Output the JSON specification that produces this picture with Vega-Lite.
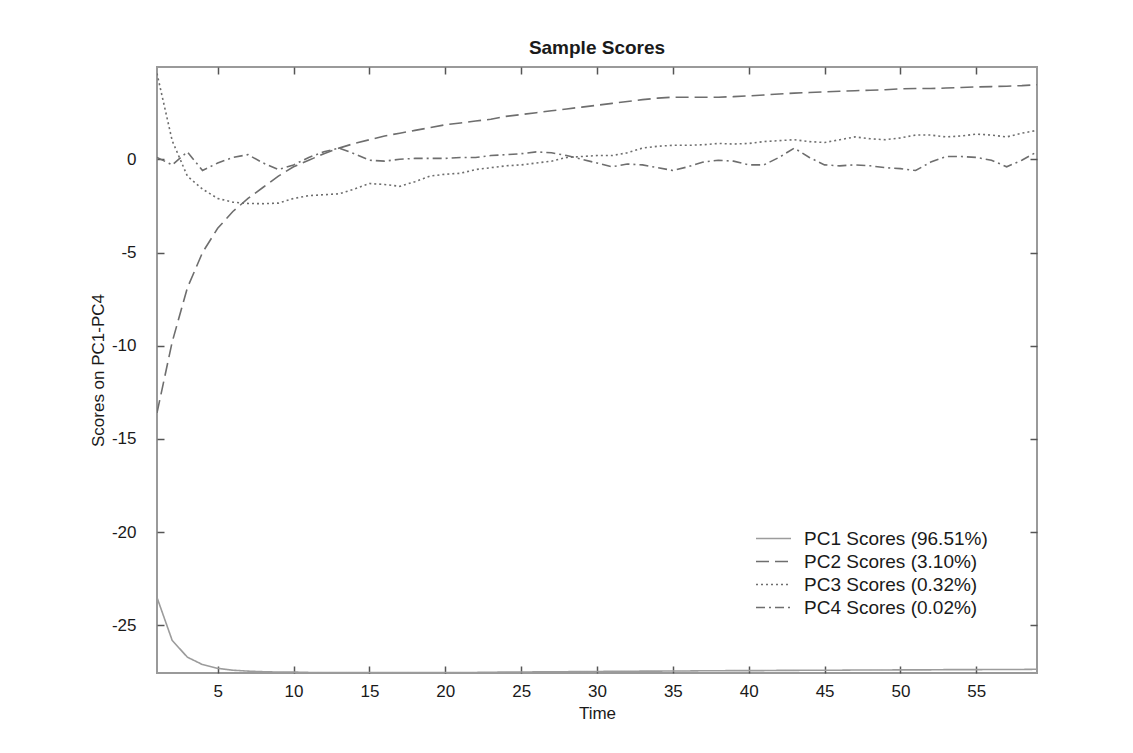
{
  "$schema": "https://vega.github.io/schema/vega-lite/v6.json",
  "width": 880,
  "height": 606,
  "autosize": {"type": "none"},
  "padding": {"left": 157, "top": 67, "right": 96, "bottom": 80},
  "background": "white",
  "title": {"text": "Sample Scores", "fontSize": 19, "font": "Liberation Sans", "fontWeight": "bold", "color": "#1a1a1a", "anchor": "middle", "offset": 8},
  "config": {
    "view": {"stroke": "#9a9a9a", "strokeWidth": 2},
    "font": "Liberation Sans",
    "axis": {"domain": false, "grid": false, "tickColor": "#555", "tickWidth": 1.5, "labelFont": "Liberation Sans", "labelFontSize": 17, "labelColor": "#1a1a1a", "titleFont": "Liberation Sans", "titleFontSize": 17, "titleFontWeight": "normal", "titleColor": "#1a1a1a"}
  },
  "data": {"values": [
    {"t":1,"PC1":-23.5,"PC2":-13.6,"PC3":4.6,"PC4":0.1},
    {"t":2,"PC1":-25.8,"PC2":-9.8,"PC3":1.0,"PC4":-0.3},
    {"t":3,"PC1":-26.7,"PC2":-6.9,"PC3":-0.9,"PC4":0.4},
    {"t":4,"PC1":-27.1,"PC2":-5.0,"PC3":-1.6,"PC4":-0.6},
    {"t":5,"PC1":-27.3,"PC2":-3.7,"PC3":-2.1,"PC4":-0.2},
    {"t":6,"PC1":-27.4,"PC2":-2.8,"PC3":-2.3,"PC4":0.1},
    {"t":7,"PC1":-27.45,"PC2":-2.1,"PC3":-2.37,"PC4":0.25},
    {"t":8,"PC1":-27.48,"PC2":-1.5,"PC3":-2.38,"PC4":-0.2},
    {"t":9,"PC1":-27.5,"PC2":-0.9,"PC3":-2.35,"PC4":-0.55},
    {"t":10,"PC1":-27.5,"PC2":-0.4,"PC3":-2.1,"PC4":-0.3},
    {"t":11,"PC1":-27.52,"PC2":-0.05,"PC3":-1.95,"PC4":0.1},
    {"t":12,"PC1":-27.52,"PC2":0.3,"PC3":-1.9,"PC4":0.4},
    {"t":13,"PC1":-27.53,"PC2":0.6,"PC3":-1.85,"PC4":0.6},
    {"t":14,"PC1":-27.53,"PC2":0.85,"PC3":-1.6,"PC4":0.3},
    {"t":15,"PC1":-27.53,"PC2":1.05,"PC3":-1.3,"PC4":-0.05},
    {"t":16,"PC1":-27.53,"PC2":1.25,"PC3":-1.35,"PC4":-0.1},
    {"t":17,"PC1":-27.53,"PC2":1.4,"PC3":-1.45,"PC4":0.0},
    {"t":18,"PC1":-27.53,"PC2":1.55,"PC3":-1.2,"PC4":0.05},
    {"t":19,"PC1":-27.52,"PC2":1.7,"PC3":-0.9,"PC4":0.05},
    {"t":20,"PC1":-27.52,"PC2":1.85,"PC3":-0.8,"PC4":0.05},
    {"t":21,"PC1":-27.52,"PC2":1.95,"PC3":-0.75,"PC4":0.1},
    {"t":22,"PC1":-27.52,"PC2":2.05,"PC3":-0.55,"PC4":0.1},
    {"t":23,"PC1":-27.51,"PC2":2.15,"PC3":-0.45,"PC4":0.2},
    {"t":24,"PC1":-27.5,"PC2":2.3,"PC3":-0.35,"PC4":0.25},
    {"t":25,"PC1":-27.5,"PC2":2.4,"PC3":-0.3,"PC4":0.3},
    {"t":26,"PC1":-27.49,"PC2":2.5,"PC3":-0.2,"PC4":0.4},
    {"t":27,"PC1":-27.48,"PC2":2.6,"PC3":-0.1,"PC4":0.35},
    {"t":28,"PC1":-27.48,"PC2":2.7,"PC3":0.1,"PC4":0.2},
    {"t":29,"PC1":-27.47,"PC2":2.8,"PC3":0.15,"PC4":0.0},
    {"t":30,"PC1":-27.47,"PC2":2.9,"PC3":0.2,"PC4":-0.2},
    {"t":31,"PC1":-27.46,"PC2":3.0,"PC3":0.2,"PC4":-0.4},
    {"t":32,"PC1":-27.46,"PC2":3.1,"PC3":0.35,"PC4":-0.25},
    {"t":33,"PC1":-27.45,"PC2":3.2,"PC3":0.6,"PC4":-0.3},
    {"t":34,"PC1":-27.45,"PC2":3.28,"PC3":0.7,"PC4":-0.45},
    {"t":35,"PC1":-27.44,"PC2":3.33,"PC3":0.75,"PC4":-0.6},
    {"t":36,"PC1":-27.44,"PC2":3.33,"PC3":0.75,"PC4":-0.4},
    {"t":37,"PC1":-27.43,"PC2":3.33,"PC3":0.78,"PC4":-0.15},
    {"t":38,"PC1":-27.43,"PC2":3.33,"PC3":0.85,"PC4":-0.05},
    {"t":39,"PC1":-27.42,"PC2":3.36,"PC3":0.82,"PC4":-0.1},
    {"t":40,"PC1":-27.42,"PC2":3.4,"PC3":0.85,"PC4":-0.3},
    {"t":41,"PC1":-27.42,"PC2":3.45,"PC3":0.95,"PC4":-0.3},
    {"t":42,"PC1":-27.41,"PC2":3.5,"PC3":1.0,"PC4":0.1},
    {"t":43,"PC1":-27.41,"PC2":3.55,"PC3":1.05,"PC4":0.6},
    {"t":44,"PC1":-27.4,"PC2":3.58,"PC3":0.95,"PC4":0.1},
    {"t":45,"PC1":-27.4,"PC2":3.62,"PC3":0.9,"PC4":-0.3},
    {"t":46,"PC1":-27.4,"PC2":3.65,"PC3":1.05,"PC4":-0.35},
    {"t":47,"PC1":-27.39,"PC2":3.68,"PC3":1.2,"PC4":-0.3},
    {"t":48,"PC1":-27.39,"PC2":3.7,"PC3":1.1,"PC4":-0.35},
    {"t":49,"PC1":-27.39,"PC2":3.73,"PC3":1.05,"PC4":-0.45},
    {"t":50,"PC1":-27.38,"PC2":3.78,"PC3":1.15,"PC4":-0.5},
    {"t":51,"PC1":-27.38,"PC2":3.8,"PC3":1.3,"PC4":-0.6},
    {"t":52,"PC1":-27.38,"PC2":3.8,"PC3":1.3,"PC4":-0.15},
    {"t":53,"PC1":-27.37,"PC2":3.82,"PC3":1.2,"PC4":0.15},
    {"t":54,"PC1":-27.37,"PC2":3.85,"PC3":1.25,"PC4":0.15},
    {"t":55,"PC1":-27.37,"PC2":3.88,"PC3":1.35,"PC4":0.1},
    {"t":56,"PC1":-27.36,"PC2":3.9,"PC3":1.3,"PC4":-0.05},
    {"t":57,"PC1":-27.36,"PC2":3.92,"PC3":1.2,"PC4":-0.4},
    {"t":58,"PC1":-27.36,"PC2":3.95,"PC3":1.4,"PC4":-0.05},
    {"t":59,"PC1":-27.35,"PC2":4.0,"PC3":1.55,"PC4":0.4}
  ]},
  "transform": [{"fold": ["PC1", "PC2", "PC3", "PC4"], "as": ["s", "v"]}],
  "layer": [
    {
      "mark": {"type": "line", "strokeWidth": 1.6, "clip": true},
      "encoding": {
        "x": {"field": "t", "type": "quantitative", "scale": {"domain": [1, 59], "nice": false, "zero": false},
              "axis": {"values": [5,10,15,20,25,30,35,40,45,50,55], "tickSize": -7, "labelPadding": 17, "title": "Time", "titlePadding": 6}},
        "y": {"field": "v", "type": "quantitative", "scale": {"domain": [-27.55, 4.95], "nice": false, "zero": false},
              "axis": {"values": [-25,-20,-15,-10,-5,0], "tickSize": -7, "labelPadding": 28, "labelExpr": "replace(datum.label, '−', '-')", "title": "Scores on PC1-PC4", "titlePadding": 4}},
        "color": {"field": "s", "type": "nominal", "scale": {"domain": ["PC1","PC2","PC3","PC4"], "range": ["#9c9c9c","#6e6e6e","#6e6e6e","#6e6e6e"]},
                  "legend": {"title": null, "orient": "none", "legendX": 598, "legendY": 460, "symbolType": "M-1,0H1", "symbolSize": 1225, "symbolStrokeWidth": 1.6, "labelFontSize": 19, "labelLimit": 0, "labelFont": "Liberation Sans", "labelColor": "#1a1a1a", "labelOffset": 12, "rowPadding": 0, "clipHeight": 23,
                             "labelExpr": "{'PC1':'PC1 Scores (96.51%)','PC2':'PC2 Scores (3.10%)','PC3':'PC3 Scores (0.32%)','PC4':'PC4 Scores (0.02%)'}[datum.label]"}},
        "strokeDash": {"field": "s", "type": "nominal", "scale": {"domain": ["PC1","PC2","PC3","PC4"], "range": [[1,0],[13,6],[2,3],[9,4,2,4]]},
                  "legend": {"title": null, "orient": "none", "legendX": 598, "legendY": 460, "symbolType": "M-1,0H1", "symbolSize": 1225, "symbolStrokeWidth": 1.6, "labelFontSize": 19, "labelLimit": 0, "labelFont": "Liberation Sans", "labelColor": "#1a1a1a", "labelOffset": 12, "rowPadding": 0, "clipHeight": 23,
                             "labelExpr": "{'PC1':'PC1 Scores (96.51%)','PC2':'PC2 Scores (3.10%)','PC3':'PC3 Scores (0.32%)','PC4':'PC4 Scores (0.02%)'}[datum.label]"}}
      }
    },
    {
      "mark": {"type": "line", "opacity": 0},
      "encoding": {
        "x": {"field": "t", "type": "quantitative", "axis": {"orient": "top", "values": [5,10,15,20,25,30,35,40,45,50,55], "tickSize": -7, "labels": false, "title": null}},
        "y": {"field": "v", "type": "quantitative", "axis": {"orient": "right", "values": [-25,-20,-15,-10,-5,0], "tickSize": -7, "labels": false, "title": null}},
        "detail": {"field": "s"}
      }
    }
  ],
  "resolve": {"axis": {"x": "independent", "y": "independent"}}
}
